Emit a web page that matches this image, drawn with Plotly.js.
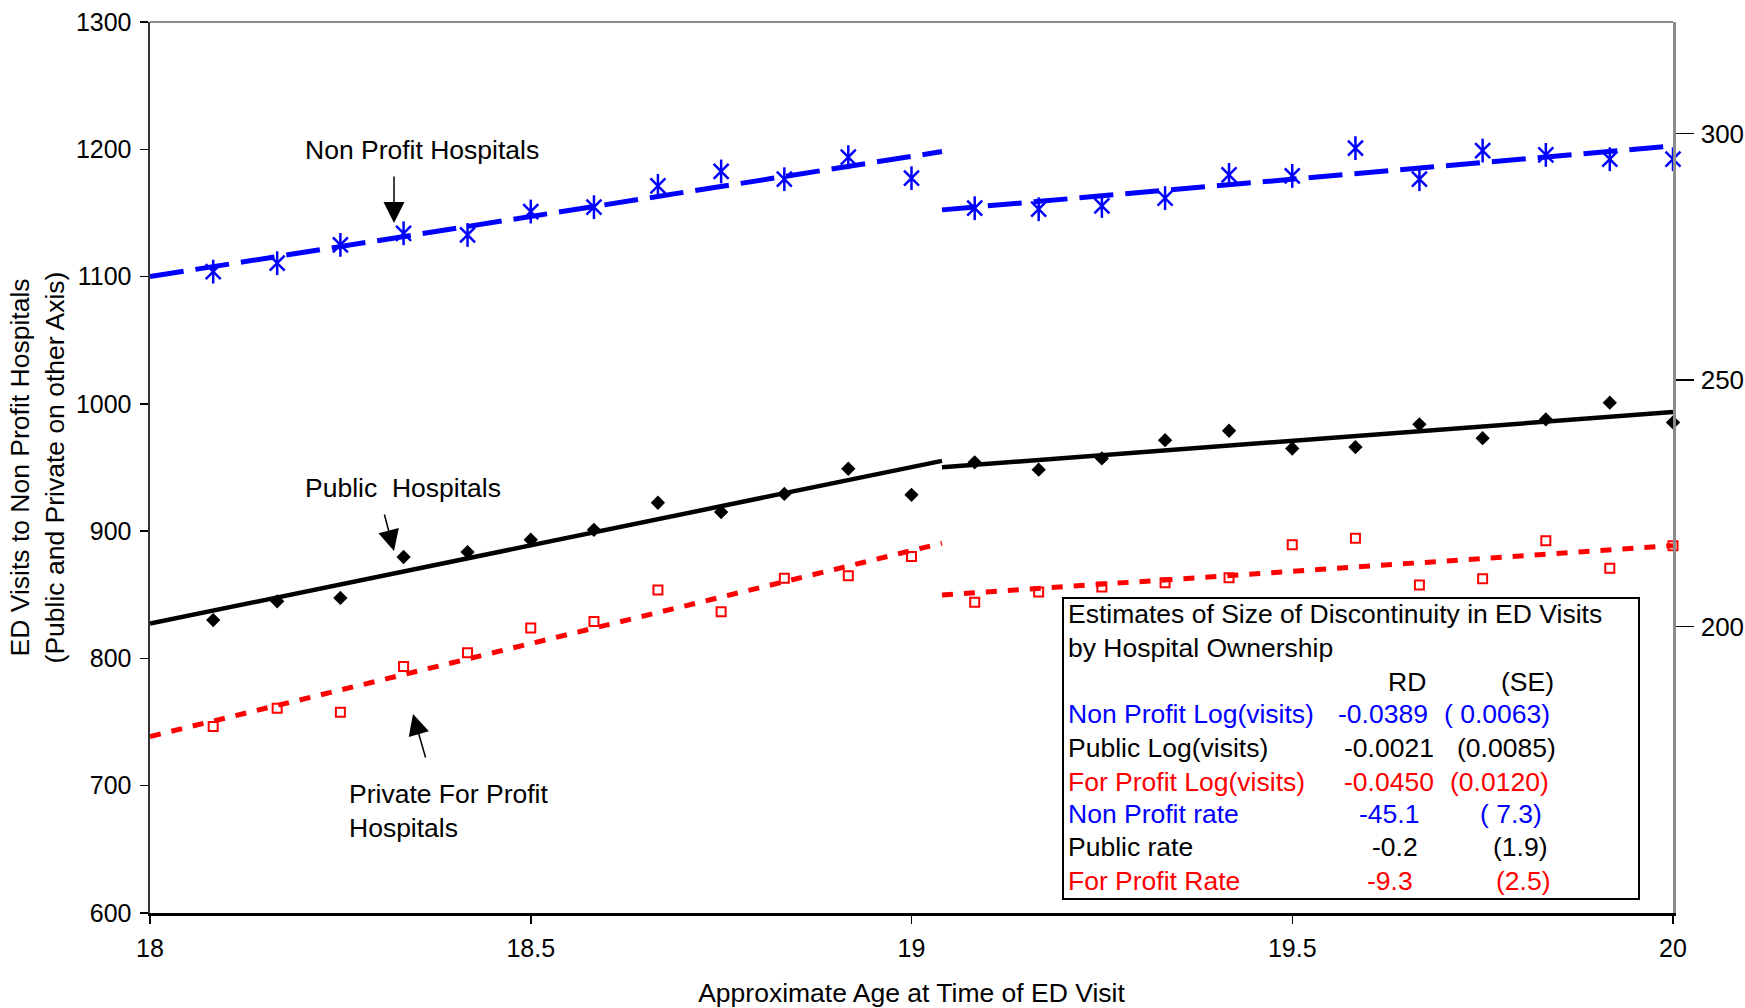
<!DOCTYPE html>
<html><head><meta charset="utf-8">
<script src="https://cdn.plot.ly/plotly-3.0.1.min.js"></script>
<style>html,body{margin:0;padding:0;background:#fff}#chart{width:1745px;height:1008px}</style>
</head><body><div id="chart"></div>
<script>
// ---- data ----
const ages = [18.083, 18.167, 18.25, 18.333, 18.417, 18.5, 18.583, 18.667, 18.75, 18.833, 18.917, 19.0,
              19.083, 19.167, 19.25, 19.333, 19.417, 19.5, 19.583, 19.667, 19.75, 19.833, 19.917, 20.0];
const nonProfit = [1103.9, 1110.5, 1124.9, 1134.0, 1132.7, 1151.1, 1154.5, 1171.3, 1182.6, 1176.5, 1193.8, 1177.3,
                   1153.7, 1152.9, 1155.5, 1161.6, 1179.9, 1179.1, 1200.9, 1176.5, 1199.0, 1195.6, 1192.2, 1192.2];
const publicH = [201.3, 205.1, 205.8, 214.1, 215.1, 217.6, 219.6, 225.1, 223.2, 226.9, 232.0, 226.7,
                 233.3, 231.8, 234.1, 237.8, 239.7, 236.1, 236.4, 241.0, 238.2, 242.0, 245.4, 241.4];
const privateH = [179.7, 183.4, 182.6, 191.9, 194.7, 199.7, 201.0, 207.4, 203.0, 209.8, 210.3, 214.2,
                  204.9, 207.0, 208.0, 208.9, 209.9, 216.6, 217.9, 208.4, 209.7, 217.4, 211.8, 216.4];
// fitted lines (left and right of the discontinuity)
const fitXLeft = [18, 19.04];
const fitXRight = [19.04, 20];
const npFitLeft = [1100, 1198.2];
const npFitRight = [1152.4, 1202.7];
const pubFitLeft = [200.6, 233.6];
const pubFitRight = [232.3, 243.5];
const privFitLeft = [177.7, 216.9];
const privFitRight = [206.4, 216.4];
// axis ticks
const xTicks = [18, 18.5, 19, 19.5, 20];
const y2Ticks = [200, 250, 300];
// table
const tableTitle = ['Estimates of Size of Discontinuity in ED Visits', 'by Hospital Ownership'];
const tableHeader = ['RD', '(SE)'];
const tableLabels = ['Non Profit Log(visits)', 'Public Log(visits)', 'For Profit Log(visits)',
                     'Non Profit rate', 'Public rate', 'For Profit Rate'];
const tableRD = ['-0.0389', '-0.0021', '-0.0450', '-45.1', '-0.2', '-9.3'];
const tableSE = ['( 0.0063)', '(0.0085)', '(0.0120)', '( 7.3)', '(1.9)', '(2.5)'];
const tableColors = ['#0000FF', '#000000', '#FF0000', '#0000FF', '#000000', '#FF0000'];

// ---- layout helpers ----
const FONT = 'Liberation Sans, Arial, sans-serif';
const W = 1745, H = 1008, L = 150, R = 72, T = 22, B = 95;
const PW = W - L - R, PH = H - T - B;
const px = x => (x - L) / PW;
const py = y => 1 - (y - T) / PH;

const BLUE = '#0000FF', RED = '#FF0000', BLACK = '#000000';

const traces = [
  {x: fitXLeft, y: npFitLeft, mode: 'lines', line: {color: BLUE, width: 5, dash: '34px,12px'}},
  {x: fitXRight, y: npFitRight, mode: 'lines', line: {color: BLUE, width: 5, dash: '34px,12px'}},
  {x: fitXLeft, y: pubFitLeft, yaxis: 'y2', mode: 'lines', line: {color: BLACK, width: 4.5}},
  {x: fitXRight, y: pubFitRight, yaxis: 'y2', mode: 'lines', line: {color: BLACK, width: 4.5}},
  {x: fitXLeft, y: privFitLeft, yaxis: 'y2', mode: 'lines', line: {color: RED, width: 5, dash: '11px,11px'}},
  {x: fitXRight, y: privFitRight, yaxis: 'y2', mode: 'lines', line: {color: RED, width: 5, dash: '11px,11px'}},
  {x: ages, y: nonProfit, mode: 'markers', cliponaxis: false,
   marker: {symbol: 'x-thin-open', size: 15, color: BLUE, line: {color: BLUE, width: 2.5}}},
  {x: ages, y: nonProfit, mode: 'markers', cliponaxis: false,
   marker: {symbol: 'line-ns-open', size: 17, color: BLUE, line: {color: BLUE, width: 2.5}}},
  {x: ages, y: publicH, yaxis: 'y2', mode: 'markers', cliponaxis: false,
   marker: {symbol: 'diamond', size: 11, color: BLACK, line: {width: 0}}},
  {x: ages, y: privateH, yaxis: 'y2', mode: 'markers', cliponaxis: false,
   marker: {symbol: 'square-open', size: 9, color: RED, line: {color: RED, width: 2}}}
];

const annotations = [];
function txt(text, x, y, color, size) {
  annotations.push({text: text, xref: 'paper', yref: 'paper', x: px(x), y: py(y),
    xanchor: 'left', yanchor: 'middle', showarrow: false, align: 'left',
    font: {family: FONT, size: size || 26.5, color: color || BLACK}});
}
function arrow(hx, hy, tx, ty) {
  annotations.push({text: '', xref: 'paper', yref: 'paper', x: px(hx), y: py(hy),
    ax: tx - hx, ay: ty - hy, showarrow: true, arrowhead: 2, arrowsize: 2.8, arrowwidth: 1.5, arrowcolor: BLACK});
}
// series labels
txt('Non Profit Hospitals', 303, 150);
arrow(394, 223, 394, 175);
txt('Public\u00a0 Hospitals', 303, 488);
arrow(394, 551, 384, 513);
txt('Private For Profit<br>Hospitals', 347, 811);
arrow(413, 714, 426, 759);
// table
txt(tableTitle[0], 1066, 614);
txt(tableTitle[1], 1066, 648);
txt(tableHeader[0], 1386, 682);
txt(tableHeader[1], 1499, 682);
const rowY = [714, 748, 782, 814, 847, 881];
const rdX = [1336, 1342, 1342, 1357, 1370, 1365];
const seX = [1442, 1455, 1448, 1478, 1491, 1494];
for (let i = 0; i < tableLabels.length; i++) {
  txt(tableLabels[i], 1066, rowY[i], tableColors[i]);
  txt(tableRD[i], rdX[i], rowY[i], tableColors[i]);
  txt(tableSE[i], seX[i], rowY[i], tableColors[i]);
}

const layout = {
  width: W, height: H,
  margin: {l: L, r: R, t: T, b: B, pad: 0},
  paper_bgcolor: '#fff', plot_bgcolor: '#fff',
  showlegend: false,
  font: {family: FONT, color: BLACK},
  xaxis: {
    range: [18, 20], tickvals: xTicks, ticktext: xTicks.map(String),
    ticks: 'outside', ticklen: 8, tickwidth: 1.5, tickcolor: BLACK,
    showline: true, linecolor: BLACK, linewidth: 2.5, showgrid: false, zeroline: false,
    tickfont: {family: FONT, size: 25, color: BLACK}, ticklabelstandoff: 3,
    title: {text: 'Approximate Age at Time of ED Visit', font: {family: FONT, size: 26.5, color: BLACK}, standoff: 24}
  },
  yaxis: {
    range: [600, 1300], dtick: 100, tick0: 600,
    ticks: 'outside', ticklen: 8, tickwidth: 1.5, tickcolor: BLACK,
    showline: true, linecolor: '#333', linewidth: 2.5, showgrid: false, zeroline: false,
    tickfont: {family: FONT, size: 25, color: BLACK}, ticklabelstandoff: 3,
    title: {text: 'ED Visits to Non Profit Hospitals<br>(Public and Private on other Axis)',
            font: {family: FONT, size: 26.5, color: BLACK}, standoff: 4}
  },
  yaxis2: {
    overlaying: 'y', side: 'right', anchor: 'x',
    range: [141.9, 322.6], tickvals: y2Ticks,
    ticks: 'outside', ticklen: 18, tickwidth: 1.5, tickcolor: BLACK,
    showline: true, linecolor: '#8c8c8c', linewidth: 2.5, showgrid: false, zeroline: false,
    tickfont: {family: FONT, size: 26, color: BLACK}, ticklabelstandoff: 2
  },
  shapes: [
    {type: 'line', xref: 'paper', yref: 'paper', x0: 0, x1: 1, y0: 1, y1: 1, line: {color: '#8c8c8c', width: 2}},
    {type: 'rect', xref: 'paper', yref: 'paper', x0: px(1063), x1: px(1639), y0: py(899), y1: py(598),
     line: {color: BLACK, width: 2}, fillcolor: 'rgba(255,255,255,0)', layer: 'above'}
  ],
  annotations: annotations
};

Plotly.newPlot('chart', traces, layout, {displayModeBar: false, staticPlot: true});
</script>
</body></html>
